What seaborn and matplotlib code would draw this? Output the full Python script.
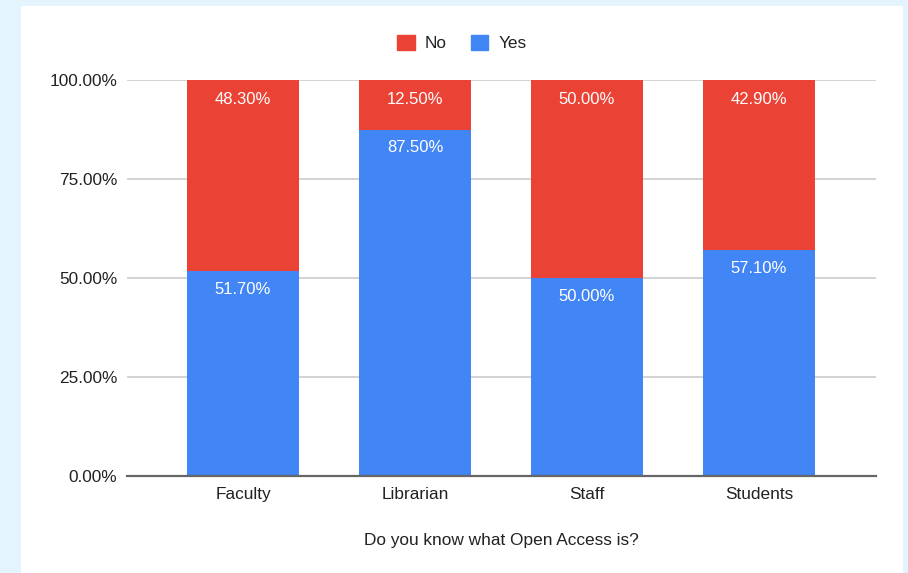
import matplotlib
matplotlib.use("Agg")
import matplotlib.pyplot as plt
import matplotlib.patches as mpatches
import seaborn as sns
import pandas as pd

groups = ["Faculty", "Librarian", "Staff", "Students"]
yes_share = [0.517, 0.875, 0.500, 0.571]
no_share = [0.483, 0.125, 0.500, 0.429]

red = "#EA4335"
blue = "#4285F4"

sns.set_style("white")
plt.rcParams["font.family"] = ["Liberation Sans", "DejaVu Sans"]

df = pd.DataFrame({"group": groups, "yes": yes_share, "no": no_share})
df["total"] = df["yes"] + df["no"]

fig = plt.figure(figsize=(9.08, 5.73), dpi=100)
fig.patch.set_facecolor("#e4f4fc")
# white card behind the chart
fig.patches.append(mpatches.Rectangle((21 / 908, 0), 882 / 908, 567 / 573,
                                      transform=fig.transFigure, facecolor="white",
                                      edgecolor="none", zorder=-10))

ax = fig.add_axes([127 / 908, 1 - 476 / 573, 749 / 908, 396 / 573])
ax.set_facecolor("none")

# stacked bars: full height in red, yes part in blue on top
sns.barplot(data=df, x="group", y="total", color=red, width=0.651, saturation=1,
            linewidth=0, ax=ax, zorder=3)
sns.barplot(data=df, x="group", y="yes", color=blue, width=0.651, saturation=1,
            linewidth=0, ax=ax, zorder=4)

for i, (y, n) in enumerate(zip(yes_share, no_share)):
    ax.text(i, y + n - 0.048, f"{n * 100:.2f}%", ha="center", va="center",
            color="white", fontsize=12, zorder=5)
    ax.text(i, y - 0.046, f"{y * 100:.2f}%", ha="center", va="center",
            color="white", fontsize=12, zorder=5)

ax.set_xlim(-0.674, 3.68)
ax.set_ylim(0, 1)
ax.set_yticks([0, 0.25, 0.5, 0.75, 1.0])
ax.set_yticklabels(["0.00%", "25.00%", "50.00%", "75.00%", "100.00%"])
ax.yaxis.grid(True, color="#cccccc", linewidth=1.2, zorder=0)
ax.set_axisbelow(True)
for s in ["top", "right", "left"]:
    ax.spines[s].set_visible(False)
ax.spines["bottom"].set_color("#666666")
ax.spines["bottom"].set_linewidth(1.6)
ax.spines["bottom"].set_zorder(6)
ax.tick_params(axis="both", length=0, labelsize=12.4, colors="#222222")
ax.tick_params(axis="y", pad=7)
ax.tick_params(axis="x", pad=8)
ax.set_ylabel("")
ax.set_xlabel("Do you know what Open Access is?", fontsize=12.4, color="#222222", labelpad=22)

handles = [mpatches.Patch(color=red, label="No"), mpatches.Patch(color=blue, label="Yes")]
fig.legend(handles=handles, loc="center", bbox_to_anchor=(462 / 908, 1 - 43 / 573), ncol=2,
           frameon=False, fontsize=12.4, handlelength=1.0, handleheight=1.0,
           handletextpad=0.6, columnspacing=1.4, labelcolor="#222222")

fig.savefig("out.png", dpi=100, facecolor=fig.get_facecolor())
